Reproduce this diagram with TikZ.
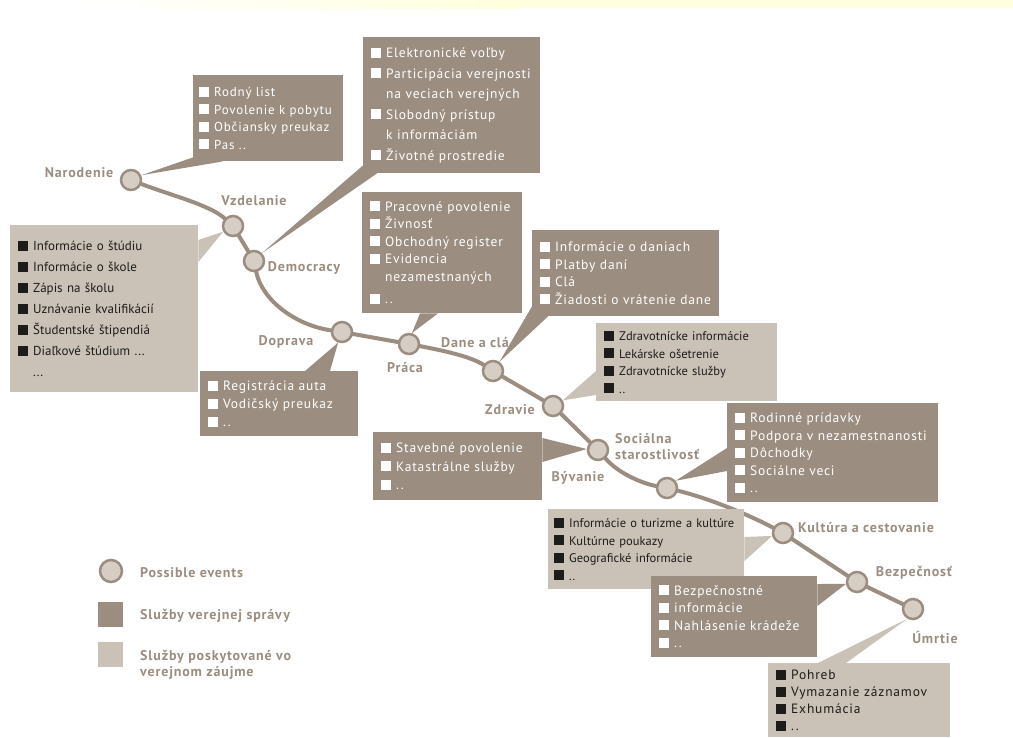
\documentclass[tikz,border=0pt]{standalone}
\usepackage{fontspec}
\setmainfont{PT Sans}
\newfontfamily\wide[LetterSpace=6]{PT Sans}
\usetikzlibrary{calc,backgrounds}

\definecolor{dkc}{RGB}{155,141,128}
\definecolor{ltc}{RGB}{202,193,183}
\definecolor{evc}{RGB}{214,205,196}
\definecolor{bandc}{RGB}{255,255,221}
\definecolor{inkc}{RGB}{30,28,26}

% bullet square and indent for wrapped lines
\newcommand\itm{\rule{10pt}{10pt}\hspace{5pt}}
\newcommand\cnt{\hspace*{15pt}}

\tikzset {
  % the life line
  track/.style = {
    draw = dkc,
    line width = 4pt,
    line cap = round
  },
  % wedge from a box to its event
  pointer/.style = {
    fill = #1
  },
  event/.style = {
    circle,
    draw = dkc,
    fill = evc,
    line width = 2.5pt,
    minimum size = 20pt,
    inner sep = 0
  },
  event label/.style = {
    text = dkc,
    font = \wide\fontsize{14}{16}\selectfont\bfseries,
    inner sep = 0
  },
  service box/.style = {
    anchor = north west,
    inner xsep = 8pt,
    inner ysep = 4pt,
    align = left,
    font = \wide\fontsize{13.5}{17.5}\selectfont
  },
  % public administration services
  dark box/.style = {
    service box,
    fill = dkc,
    text = white
  },
  % services of public interest
  light box/.style = {
    service box,
    fill = ltc,
    text = inkc
  },
  legend square/.style = {
    minimum size = 25pt,
    inner sep = 0
  }
}

\begin{document}
\begin{tikzpicture}[x=1pt,y=-1pt]
    \useasboundingbox (0,0) rectangle (1013,737);

    % top band
    \shade[left color=white, right color=bandc] (80,0) rectangle (520,8);
    \fill[bandc] (520,0) rectangle (1013,8);

    % events
    \node[event] (narodenie) at (131,180) {};
    \node[event] (vzdelanie) at (233,226) {};
    \node[event] (democracy) at (254,261) {};
    \node[event] (doprava) at (342,332) {};
    \node[event] (praca) at (409,344) {};
    \node[event] (dane) at (493,371) {};
    \node[event] (zdravie) at (553,406) {};
    \node[event] (byvanie) at (598,450) {};
    \node[event] (socialna) at (667,488) {};
    \node[event] (kultura) at (783,533) {};
    \node[event] (bezpecnost) at (857,582) {};
    \node[event] (umrtie) at (913,609) {};

    % event labels
    \node[event label] (narodenie label) at (79,173) {Narodenie};
    \node[event label] (vzdelanie label) at (254,201) {Vzdelanie};
    \node[event label] (democracy label) at (304,268) {Democracy};
    \node[event label] (doprava label) at (286,342) {Doprava};
    \node[event label] (praca label) at (405,368) {Práca};
    \node[event label] (dane label) at (475,343) {Dane a clá};
    \node[event label] (zdravie label) at (510,410) {Zdravie};
    \node[event label, anchor=west, align=left] (socialna label) at (615,447)
      {Sociálna\\starostlivosť};
    \node[event label] (byvanie label) at (578,478) {Bývanie};
    \node[event label] (kultura label) at (866,528) {Kultúra a cestovanie};
    \node[event label] (bezpecnost label) at (914,573) {Bezpečnosť};
    \node[event label] (umrtie label) at (935,637) {Úmrtie};

    % service boxes
    \node[dark box, minimum height=86pt, inner xsep=6pt, text width=138pt,
      font=\wide\fontsize{13}{17.5}\selectfont] (narodenie box) at (193,75)
      {\itm Rodný list\\ \itm Povolenie k pobytu\\ \itm Občiansky preukaz\\
       \itm Pas ..};

    \node[dark box, minimum height=136pt, text width=161pt,
      font=\wide\fontsize{13.5}{20.5}\selectfont] (democracy box) at (363,37)
      {\itm Elektronické voľby\\ \itm Participácia verejnosti\\
       \cnt na veciach verejných\\ \itm Slobodný prístup\\
       \cnt k informáciám\\ \itm Životné prostredie};

    \node[light box, minimum height=167pt, text width=172pt,
      font=\fontsize{13}{21}\selectfont] (vzdelanie box) at (10,225)
      {\itm Informácie o štúdiu\\ \itm Informácie o škole\\
       \itm Zápis na školu\\ \itm Uznávanie kvalifikácií\\
       \itm Študentské štipendiá\\ \itm Diaľkové štúdium ...\\ \cnt ...};

    \node[dark box, minimum height=65pt, text width=142pt,
      font=\wide\fontsize{13.5}{18}\selectfont] (doprava box) at (200,371)
      {\itm Registrácia auta\\ \itm Vodičský preukaz\\ \itm ..};

    \node[dark box, minimum height=121pt, text width=144pt] (praca box)
      at (362,192)
      {\itm Pracovné povolenie\\ \itm Živnosť\\ \itm Obchodný register\\
       \itm Evidencia\\ \cnt nezamestnaných\\[5pt] \itm ..};

    \node[dark box, minimum height=86pt, text width=171pt] (dane box)
      at (532,230)
      {\itm Informácie o daniach\\ \itm Platby daní\\ \itm Clá\\
       \itm Žiadosti o vrátenie dane};

    \node[light box, minimum height=78pt, text width=165pt,
      font=\fontsize{12.5}{17.5}\selectfont] (zdravie box) at (596,323)
      {\itm Zdravotnícke informácie\\ \itm Lekárske ošetrenie\\
       \itm Zdravotnícke služby\\ \itm ..};

    \node[dark box, minimum height=68pt, text width=153pt,
      font=\wide\fontsize{13.5}{18.5}\selectfont] (byvanie box) at (373,432)
      {\itm Stavebné povolenie\\ \itm Katastrálne služby\\ \itm ..};

    \node[dark box, minimum height=99pt, text width=195pt] (socialna box)
      at (727,403)
      {\itm Rodinné prídavky\\ \itm Podpora v nezamestnanosti\\
       \itm Dôchodky\\ \itm Sociálne veci\\ \itm ..};

    \node[light box, minimum height=80pt, inner xsep=6pt, text width=184pt,
      font=\fontsize{12.5}{17.5}\selectfont] (kultura box) at (548,509)
      {\itm Informácie o turizme a kultúre\\ \itm Kultúrne poukazy\\
       \itm Geografické informácie\\ \itm ..};

    \node[dark box, minimum height=81pt, text width=150pt] (bezpecnost box)
      at (651,576)
      {\itm Bezpečnostné\\ \itm informácie\\ \itm Nahlásenie krádeže\\
       \itm ..};

    \node[light box, minimum height=74pt, text width=166pt,
      font=\wide\fontsize{13.5}{17}\selectfont] (umrtie box) at (768,663)
      {\itm Pohreb\\ \itm Vymazanie záznamov\\ \itm Exhumácia\\ \itm ..};

    % legend
    \node[event, minimum size=22pt] (legend event) at (111,571) {};
    \node[legend square, fill=dkc] (legend dark) at (110,614) {};
    \node[legend square, fill=ltc] (legend light) at (110,654) {};
    \node[event label, anchor=west] (legend event label) at (140,573)
      {Possible events};
    \node[event label, anchor=west] (legend dark label) at (140,616)
      {Služby verejnej správy};
    \node[event label, anchor=west, align=left,
      font=\wide\fontsize{14}{16.5}\selectfont\bfseries] (legend light label)
      at (140,665) {Služby poskytované vo\\verejnom záujme};

    \begin{pgfonlayer}{background}
      % life line
      \draw[track] (narodenie) .. controls (170,195) and (210,205) .. (vzdelanie);
      \draw[track] (vzdelanie) -- (democracy);
      \draw[track] (democracy) .. controls (262,300) and (295,325) .. (doprava);
      \draw[track] (doprava) -- (praca);
      \draw[track] (praca) .. controls (440,350) and (470,356) .. (dane);
      \draw[track] (dane) -- (zdravie);
      \draw[track] (zdravie) -- (byvanie);
      \draw[track] (byvanie) .. controls (620,475) and (645,484) .. (socialna);
      \draw[track] (socialna) .. controls (715,500) and (755,518) .. (kultura);
      \draw[track] (kultura) -- (bezpecnost);
      \draw[track] (bezpecnost) -- (umrtie);

      % wedges
      \fill[pointer=dkc] ($(narodenie box.south west)+(0,-4)$)
        -- ($(narodenie box.south west)+(30,0)$) -- (narodenie.25) -- cycle;
      \fill[pointer=dkc] ($(democracy box.south west)+(0,-8)$)
        -- ($(democracy box.south west)+(14,0)$) -- (democracy.45) -- cycle;
      \fill[pointer=ltc] ($(vzdelanie box.north east)+(0,15)$)
        -- ($(vzdelanie box.north east)+(0,37)$) -- (vzdelanie.210) -- cycle;
      \fill[pointer=dkc] ($(doprava box.north west)+(105,0)$)
        -- ($(doprava box.north west)+(130,0)$) -- (doprava.250) -- cycle;
      \fill[pointer=dkc] ($(praca box.south west)+(58,0)$)
        -- ($(praca box.south west)+(76,0)$) -- (praca.75) -- cycle;
      \fill[pointer=dkc] ($(dane box.south west)+(0,-10)$)
        -- ($(dane box.south west)+(16,0)$) -- (dane.55) -- cycle;
      \fill[pointer=ltc] ($(zdravie box.north west)+(0,48)$)
        -- ($(zdravie box.north west)+(0,72)$) -- (zdravie.30) -- cycle;
      \fill[pointer=dkc] ($(byvanie box.north east)+(0,6)$)
        -- ($(byvanie box.north east)+(0,30)$) -- (byvanie.175) -- cycle;
      \fill[pointer=dkc] ($(socialna box.north west)+(0,45)$)
        -- ($(socialna box.north west)+(0,68)$) -- (socialna.40) -- cycle;
      \fill[pointer=ltc] ($(kultura box.north east)+(0,28)$)
        -- ($(kultura box.north east)+(0,52)$) -- (kultura.195) -- cycle;
      \fill[pointer=dkc] ($(bezpecnost box.north east)+(0,8)$)
        -- ($(bezpecnost box.north east)+(0,30)$) -- (bezpecnost.190) -- cycle;
      \fill[pointer=ltc] ($(umrtie box.north west)+(50,0)$)
        -- ($(umrtie box.north west)+(78,0)$) -- (umrtie.240) -- cycle;
    \end{pgfonlayer}
\end{tikzpicture}
\end{document}
